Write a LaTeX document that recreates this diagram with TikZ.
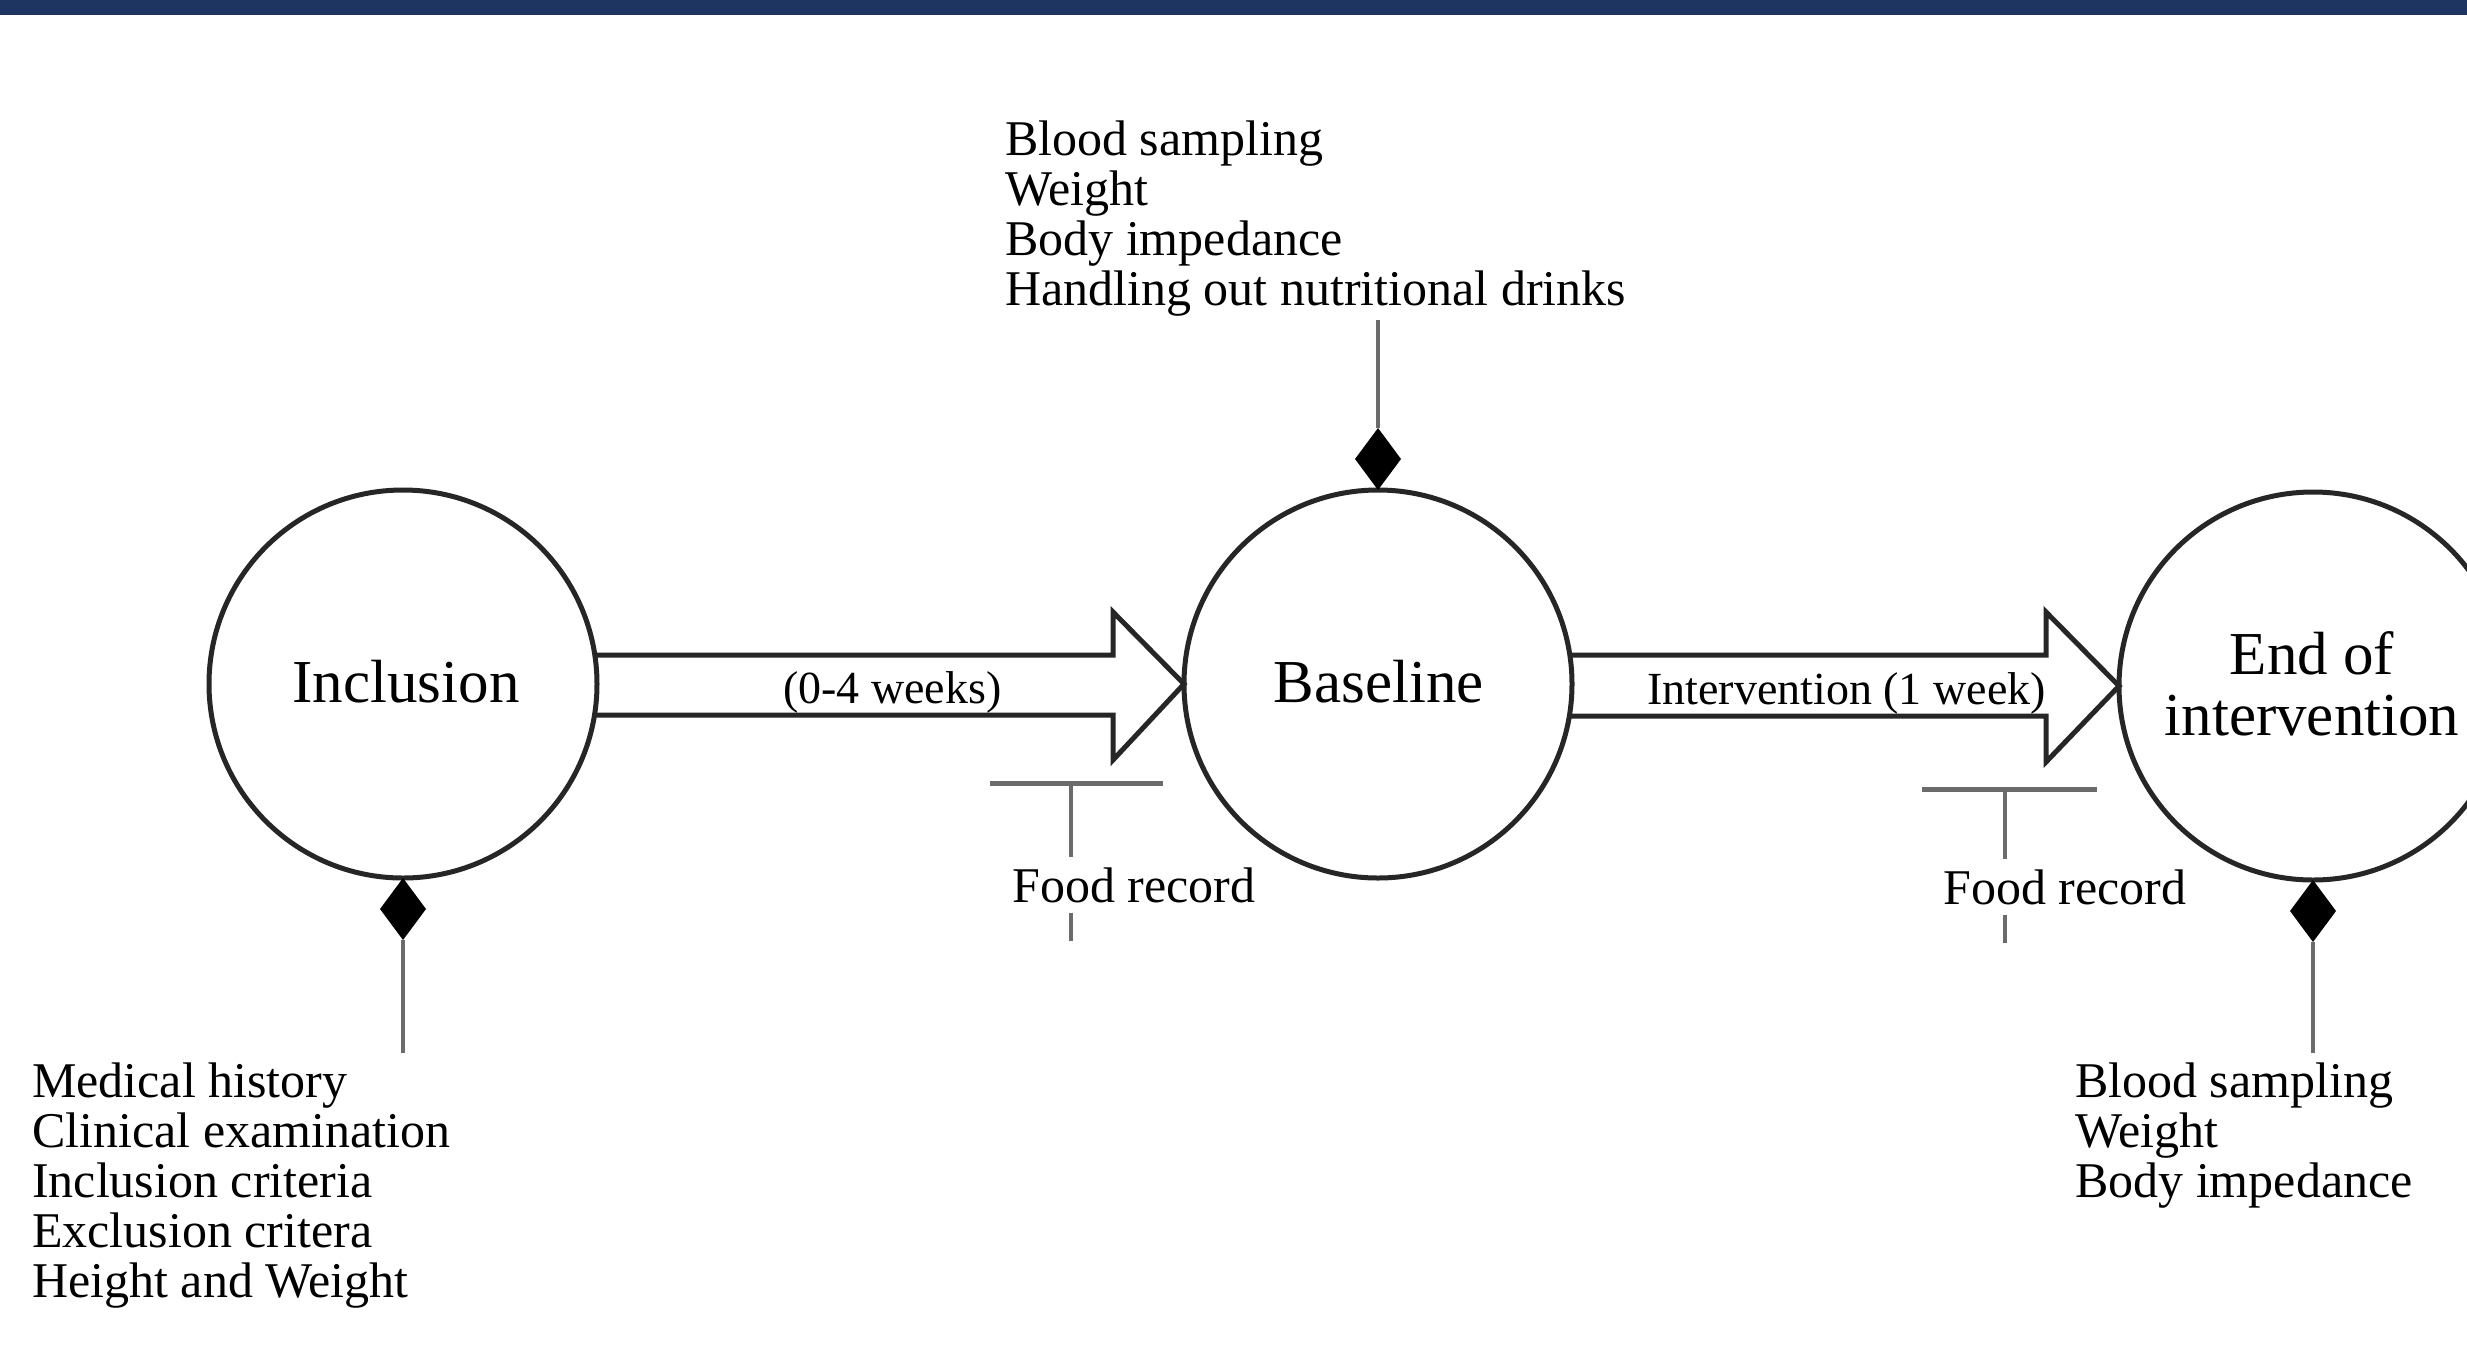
\documentclass[tikz,border=0pt]{standalone}
\usepackage{fontspec}
\setmainfont{Liberation Serif}
\usetikzlibrary{shapes.geometric,calc}
\definecolor{navy}{HTML}{1F3561}
\definecolor{ink}{HTML}{262626}
\definecolor{greyline}{HTML}{6B6B6B}
\begin{document}
\begin{tikzpicture}[x=1pt,y=-1pt,
  stage/.style={circle, draw=ink, line width=5pt, minimum size=388pt, inner sep=0pt, outer sep=0pt},
  big/.style={font=\fontsize{61}{61}\selectfont, text=black, inner sep=0pt},
  small/.style={font=\fontsize{50}{50}\selectfont, text=black, inner sep=0pt},
  arrowlbl/.style={font=\fontsize{46}{50}\selectfont, text=black, inner sep=0pt},
  blk/.style={draw=ink, line width=5pt, line join=miter},
  dia/.style={diamond, fill=black, draw=none, minimum width=46pt, minimum height=62pt, inner sep=0pt, outer sep=0pt},
  conn/.style={draw=greyline, line width=4pt},
  barstyle/.style={draw=greyline, line width=5pt},
  list/.style={small, align=left, anchor=north west}
]
\useasboundingbox (0,0) rectangle (2467,1350);
\clip (0,0) rectangle (2467,1350);
\fill[white] (0,0) rectangle (2467,1350);
\fill[navy] (0,0) rectangle (2467,15);

% stages
\node[stage] (inc) at (403,684) {};
\node[stage] (base) at (1378,684) {};
\node[stage] (endi) at (2313,686) {};
\node[big, anchor=base] (incl) at (406,702) {Inclusion};
\node[big, anchor=base] (basel) at (1379,702) {Baseline};
\node[big, align=center, anchor=center] (endl) at (2312,684) {End of\\intervention};

% block arrows
\draw[blk] ($(inc.east)+(-3,-29)$) -- (1113,655) -- (1113,612) -- (base.west)
  -- (1113,760) -- (1113,715) -- ($(inc.east)+(-3,31)$);
\draw[blk] ($(base.east)+(-3,-29)$) -- (2046,655) -- (2046,612) -- (endi.west)
  -- (2046,762) -- (2046,716) -- ($(base.east)+(-3,32)$);
\node[arrowlbl, anchor=base west] (l1) at (783,703) {(0-4 weeks)};
\node[arrowlbl, anchor=base west] (l2) at (1647,704) {Intervention (1 week)};

% food records
\coordinate (fr1) at (1071,783);
\draw[barstyle] ($(fr1)+(-81,0)$) -- ($(fr1)+(92,0)$);
\node[small, anchor=base west] (fr1t) at (1012,902) {Food record};
\draw[conn] (fr1) -- ($(fr1 |- fr1t.north)+(0,-10)$);
\draw[conn] ($(fr1 |- fr1t.south)+(0,10)$) -- ++(0,28);

\coordinate (fr2) at (2005,789);
\draw[barstyle] ($(fr2)+(-83,0)$) -- ($(fr2)+(92,0)$);
\node[small, anchor=base west] (fr2t) at (1943,904) {Food record};
\draw[conn] (fr2) -- ($(fr2 |- fr2t.north)+(0,-10)$);
\draw[conn] ($(fr2 |- fr2t.south)+(0,10)$) -- ++(0,28);

% diamonds
\node[dia, anchor=north] (d1) at (inc.south) {};
\node[dia, anchor=south] (d2) at (base.north) {};
\node[dia, anchor=north] (d3) at (endi.south) {};

% lists
\node[list] (inclist) at (32,1063) {Medical history\\Clinical examination\\Inclusion criteria\\Exclusion critera\\Height and Weight};
\node[list] (toplist) at (1005,121) {Blood sampling\\Weight\\Body impedance\\Handling out nutritional drinks};
\node[list] (endlist) at (2075,1063) {Blood sampling\\Weight\\Body impedance};

\draw[conn] (d1.south) -- ($(d1.south |- inclist.north)+(0,-10)$);
\draw[conn] (d2.north) -- ($(d2.north |- toplist.south)+(0,3)$);
\draw[conn] (d3.south) -- ($(d3.south |- endlist.north)+(0,-10)$);
\end{tikzpicture}
\end{document}
